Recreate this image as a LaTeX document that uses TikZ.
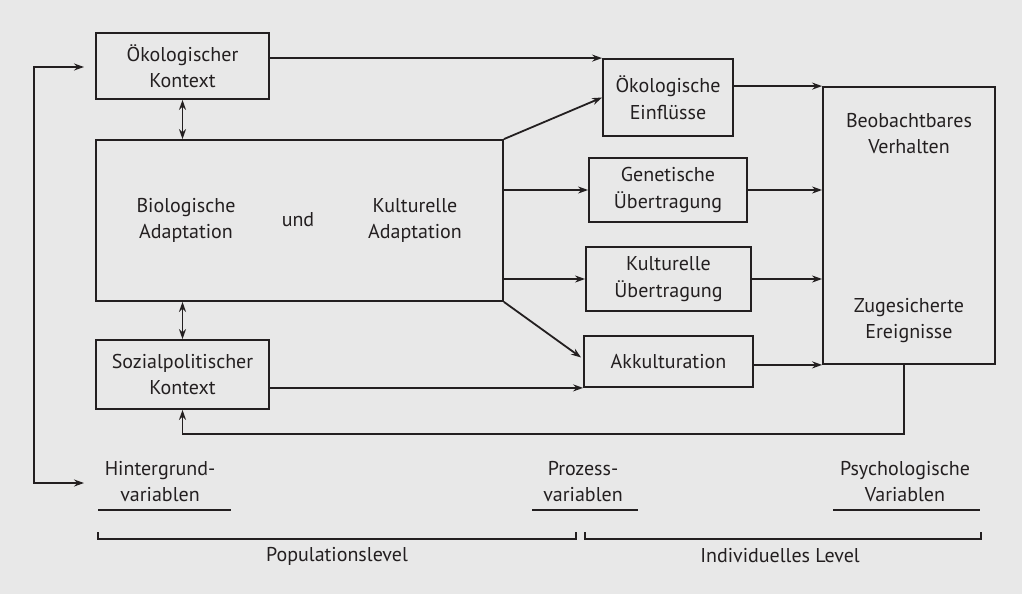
\documentclass[tikz,border=0pt]{standalone}
\usepackage{fontspec}
\setmainfont{PT Sans}
\usetikzlibrary{arrows.meta,calc}
\definecolor{bg}{HTML}{E8E8E8}
\definecolor{ink}{HTML}{231F20}
\tikzset{
  box/.style={draw=ink, line width=1.8pt, inner sep=0pt, align=center, text=ink, font=\fontsize{20}{26.5}\selectfont},
  txt/.style={inner sep=0pt, align=center, text=ink, font=\fontsize{20}{26.5}\selectfont},
  arr/.style={draw=ink, line width=1.8pt, -{Stealth[length=10pt,width=7pt]}},
  arrtwo/.style={draw=ink, line width=1.8pt, {Stealth[length=10pt,width=7pt]}-{Stealth[length=10pt,width=7pt]}},
  rule/.style={draw=ink, line width=1.8pt},
}
\begin{document}
\begin{tikzpicture}[x=1pt,y=-1pt]
\fill[bg] (0,0) rectangle (1022,594);
\useasboundingbox (0,0) rectangle (1022,594);
% boxes
\node[box, minimum width=173pt, minimum height=66pt] (oek) at (182.5,66) {Ökologischer\\Kontext};
\node[box, minimum width=407pt, minimum height=161pt] (big) at (299.5,220.5) {};
\node[box, minimum width=173pt, minimum height=69pt] (soz) at (182.5,374.5) {Sozialpolitischer\\Kontext};
\node[box, minimum width=130pt, minimum height=77pt] (ein) at (668,97.5) {Ökologische\\Einflüsse};
\node[box, minimum width=158pt, minimum height=64pt] (gen) at (668,190) {Genetische\\Übertragung};
\node[box, minimum width=165pt, minimum height=64pt] (kul) at (668.5,279) {Kulturelle\\Übertragung};
\node[box, minimum width=169pt, minimum height=51pt] (akk) at (668.5,361.5) {Akkulturation};
\node[box, minimum width=172pt, minimum height=277pt] (psy) at (909,225.5) {};
% texts inside boxes
\node[txt] (bio) at (186,220.5) {Biologische\\Adaptation};
\node[txt] (und) at (298,220) {und};
\node[txt] (kad) at (415,220.5) {Kulturelle\\Adaptation};
\node[txt] (beo) at (909,133.5) {Beobachtbares\\Verhalten};
\node[txt] (zug) at (909,320.5) {Zugesicherte\\Ereignisse};
% connectors
\draw[arr] (oek.east |- ein.north west) -- (ein.north west);
\draw[arr] (big.north east) -- (ein.west);
\draw[arr] (big.east |- gen.west) -- (gen.west);
\draw[arr] (big.east |- kul.west) -- (kul.west);
\draw[arr] (big.south east) -- ($(akk.west)+(-2,-4)$);
\draw[arr] (ein.east |- psy.north west) -- (psy.north west);
\draw[arr] (gen.east) -- (psy.west |- gen.east);
\draw[arr] (kul.east) -- (psy.west |- kul.east);
\draw[arr] (akk.east |- psy.south west) -- (psy.south west);
\draw[arr] (soz.east |- akk.south west) -- (akk.south west);
\draw[arr] ($(psy.south)+(-5,0)$) |- ($(soz.south)+(0,24)$) -- (soz.south);
\draw[arrtwo] (oek.south) -- (oek.south |- big.north);
\draw[arrtwo] (big.south -| soz.north) -- (soz.north);
% left loop
\coordinate (lt) at (84,67);
\coordinate (lb) at (84,483);
\draw[arrtwo] (lt) -- (34,67) -- (34,483) -- (lb);
% bottom labels
\node[txt] (hint) at (160,481.5) {Hintergrund-\\variablen};
\node[txt] (proz) at (583,481.5) {Prozess-\\variablen};
\node[txt] (psyv) at (905,481.5) {Psychologische\\Variablen};
\draw[rule] (98,510) -- (231,510);
\draw[rule] (532,510) -- (638,510);
\draw[rule] (833,510) -- (980,510);
\draw[draw=ink, line width=1.4pt] (98,532) -- (98,539) -- (576,539) -- (576,532);
\draw[draw=ink, line width=1.4pt] (585,532) -- (585,539) -- (981,539) -- (981,532);
\node[txt] (pop) at (337,556) {Populationslevel};
\node[txt] (ind) at (780,556) {Individuelles Level};
\end{tikzpicture}
\end{document}
